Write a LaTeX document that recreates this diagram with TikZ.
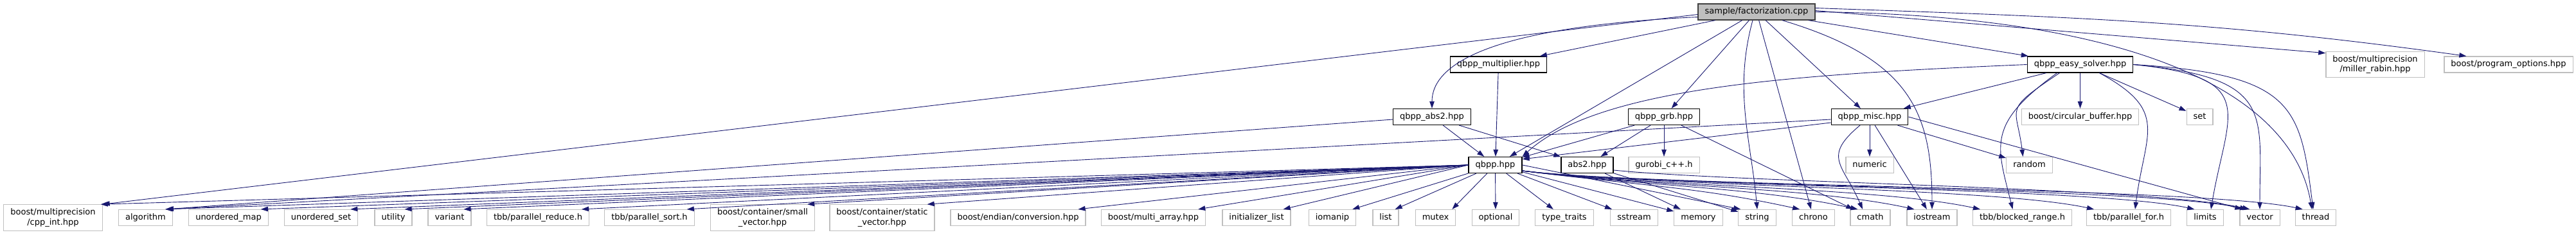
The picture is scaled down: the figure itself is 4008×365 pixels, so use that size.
\documentclass[tikz,border=0pt]{standalone}
\usepackage{fontspec}
\setmainfont{DejaVu Sans}
\usetikzlibrary{arrows.meta}
\definecolor{edgeblue}{HTML}{191970}
\definecolor{sysgray}{HTML}{BFBFBF}
\definecolor{rootfill}{HTML}{BFBFBF}
\definecolor{rootdraw}{HTML}{404040}

\begin{document}
\begin{tikzpicture}[x=1pt,y=1pt,
    fbox/.style={rectangle, fill=white, font=\fontsize{13}{15.5}\selectfont, inner xsep=10.5pt, inner ysep=6pt},
    oneline/.style={text height=9.9pt, text depth=3.1pt},
    hdr/.style={fbox, oneline, draw=black, line width=1.3pt},
    sys/.style={fbox, oneline, draw=sysgray, line width=1.2pt},
    systwo/.style={fbox, align=center, draw=sysgray, line width=1.2pt},
    rootbox/.style={fbox, oneline, draw=rootdraw, fill=rootfill, line width=1.3pt},
    inc/.style={draw=edgeblue, line width=.9pt, -{Triangle[length=11pt,width=7.5pt]}}]
    \useasboundingbox (0,0) rectangle (4008,-365);

    % Project files
    \node[rootbox] (root) at (2733,-18.5) {sample/factorization.cpp};
    \node[hdr] (mult) at (2331.5,-100.5) {qbpp\_multiplier.hpp};
    \node[hdr] (easy) at (3236.5,-100.5) {qbpp\_easy\_solver.hpp};
    \node[systwo] (miller) at (3695.5,-100.5) {boost/multiprecision\\/miller\_rabin.hpp};
    \node[sys] (popts) at (3903,-100.5) {boost/program\_options.hpp};
    \node[hdr] (qabs2) at (2228,-182) {qbpp\_abs2.hpp};
    \node[hdr] (qgrb) at (2589,-182) {qbpp\_grb.hpp};
    \node[hdr] (qmisc) at (2909,-182) {qbpp\_misc.hpp};
    \node[sys] (cbuf) at (3236.5,-182) {boost/circular\_buffer.hpp};
    \node[sys] (setH) at (3422.5,-182) {set};
    \node[hdr] (qbpp) at (2326.5,-257) {qbpp.hpp};
    \node[hdr] (abstwo) at (2469.5,-257) {abs2.hpp};
    \node[sys] (gurobi) at (2589,-257) {gurobi\_c++.h};
    \node[sys] (numeric) at (2909,-257) {numeric};
    \node[sys] (random) at (3157.5,-257) {random};

    % System and library headers
    \node[systwo] (cppint) at (82.5,-339) {boost/multiprecision\\/cpp\_int.hpp};
    \node[systwo] (svec) at (1186.5,-339) {boost/container/small\\\_vector.hpp};
    \node[systwo] (stvec) at (1372.5,-339) {boost/container/static\\\_vector.hpp};
    \foreach \n/\x/\t in {algo/226.5/algorithm, umap/355.5/unordered\_map,
        uset/499.5/unordered\_set, util/612/utility, variant/699.5/variant,
        preduce/837/{tbb/parallel\_reduce.h}, psort/1010.5/{tbb/parallel\_sort.h},
        endian/1584/{boost/endian/conversion.hpp}, marray/1794.5/{boost/multi\_array.hpp},
        ilist/1955/initializer\_list, iomanip/2073/iomanip, list/2156/list,
        mutex/2233.5/mutex, optional/2327/optional, ttraits/2434/type\_traits,
        sstream/2542.5/sstream, memory/2642.5/memory, string/2734/string,
        chrono/2821.5/chrono, cmath/2910/cmath, iostream/3006/iostream,
        brange/3146.5/{tbb/blocked\_range.h}, pfor/3312/{tbb/parallel\_for.h},
        limits/3431/limits, vector/3516/vector, thread/3603/thread}
        \node[sys] (\n) at (\x,-339) {\t};

    % Includes of the sample
    \draw[inc] (root) -- (mult);
    \draw[inc] ([yshift=-8pt]root.west) .. controls +(-320,-15) and +(0,70) .. (qabs2.north);
    \draw[inc] ([yshift=-4pt]root.west) -- (cppint.north east);
    \draw[inc] (root) -- (qbpp);
    \draw[inc] (root) -- (qgrb);
    \draw[inc] ([xshift=-6pt]root.south) .. controls +(-30,-110) and +(-10,110) .. (string.north);
    \draw[inc] (root) -- (chrono);
    \draw[inc] (root) -- (qmisc);
    \draw[inc] ([xshift=40pt]root.south) .. controls +(200,-60) and +(0,150) .. (iostream.north);
    \draw[inc] (root) -- (easy);
    \draw[inc] (root.east) .. controls +(500,-5) and +(-30,180) .. ([xshift=-6pt]thread.north);
    \draw[inc] ([yshift=2pt]root.east) -- ([yshift=-3pt]miller.north west);
    \draw[inc] ([yshift=6pt]root.east) .. controls +(400,-14) and +(-394,55) .. ([xshift=35pt]popts.north west);

    % Includes of the headers
    \draw[inc] (mult) -- (qbpp);
    \draw[inc] (qabs2) -- (qbpp);
    \draw[inc] (qabs2) -- (abstwo);
    \draw[inc] ([yshift=-4pt]qabs2.west) -- ([xshift=-10pt]algo.north east);
    \draw[inc] (qgrb) -- (qbpp);
    \draw[inc] (qgrb) -- (abstwo);
    \draw[inc] (qgrb) -- (gurobi);
    \draw[inc] (qgrb) -- (cmath);
    \draw[inc] ([yshift=-9pt]qmisc.west) -- ([yshift=-4pt]qbpp.north east);
    \draw[inc] ([yshift=-4pt]qmisc.west) -- ([xshift=-10pt]algo.north east);
    \draw[inc] ([xshift=-15pt]qmisc.south) .. controls +(-60,-50) and +(-30,70) .. ([xshift=-12pt]cmath.north);
    \draw[inc] (qmisc) -- (numeric);
    \draw[inc] (qmisc) -- (iostream);
    \draw[inc] (qmisc) -- (random);
    \draw[inc] (qmisc.east) -- ([xshift=4pt]vector.north west);
    \draw[inc] (easy.west) .. controls +(-350,-15) and +(120,110) .. (qbpp.north east);
    \draw[inc] (easy) -- (qmisc);
    \draw[inc] (easy) -- (cbuf);
    \draw[inc] (easy) -- (setH);
    \draw[inc] ([xshift=-32pt]easy.south) .. controls +(-90,-60) and +(-10,80) .. ([xshift=-10pt]random.north);
    \draw[inc] ([xshift=-36pt]easy.south) .. controls +(-110,-80) and +(-25,100) .. ([xshift=-15pt]brange.north);
    \draw[inc] ([xshift=30pt]easy.south) .. controls +(110,-60) and +(15,120) .. ([xshift=10pt]pfor.north);
    \draw[inc] (easy.east) .. controls +(200,-20) and +(25,150) .. ([xshift=9pt]limits.north);
    \draw[inc] (easy.east) .. controls +(220,-20) and +(0,150) .. (vector.north);
    \draw[inc] (easy.east) .. controls +(250,-15) and +(-20,160) .. ([xshift=-4pt]thread.north);
    \draw[inc] (abstwo) -- (memory);
    \draw[inc] (abstwo) -- (string);
    \draw[inc] ([yshift=-8pt]abstwo.east) .. controls +(200,-20) and +(-160,35) .. ([xshift=16pt]vector.north west);

    % qbpp.hpp
    \draw[inc] (qbpp.west) -- ([xshift=-3pt]cppint.north east);
    \foreach \t in {algo,umap,uset,util,variant,preduce,psort,svec,stvec,endian,marray,ilist}
        \draw[inc] (qbpp.west) -- ([xshift=-12pt]\t.north east);
    \foreach \t in {iomanip,list,mutex}
        \draw[inc] (qbpp) -- ([xshift=-6pt]\t.north east);
    \foreach \t in {optional,ttraits,sstream,memory}
        \draw[inc] (qbpp) -- (\t);
    \draw[inc] (qbpp.east) -- ([xshift=4pt]string.north west);
    \foreach \t in {chrono,cmath,iostream,brange,pfor,limits,vector,thread}
        \draw[inc] ([yshift=-9pt]qbpp.east) .. controls +(200,-25) and +(-160,35) .. ([xshift=12pt]\t.north west);
\end{tikzpicture}
\end{document}
